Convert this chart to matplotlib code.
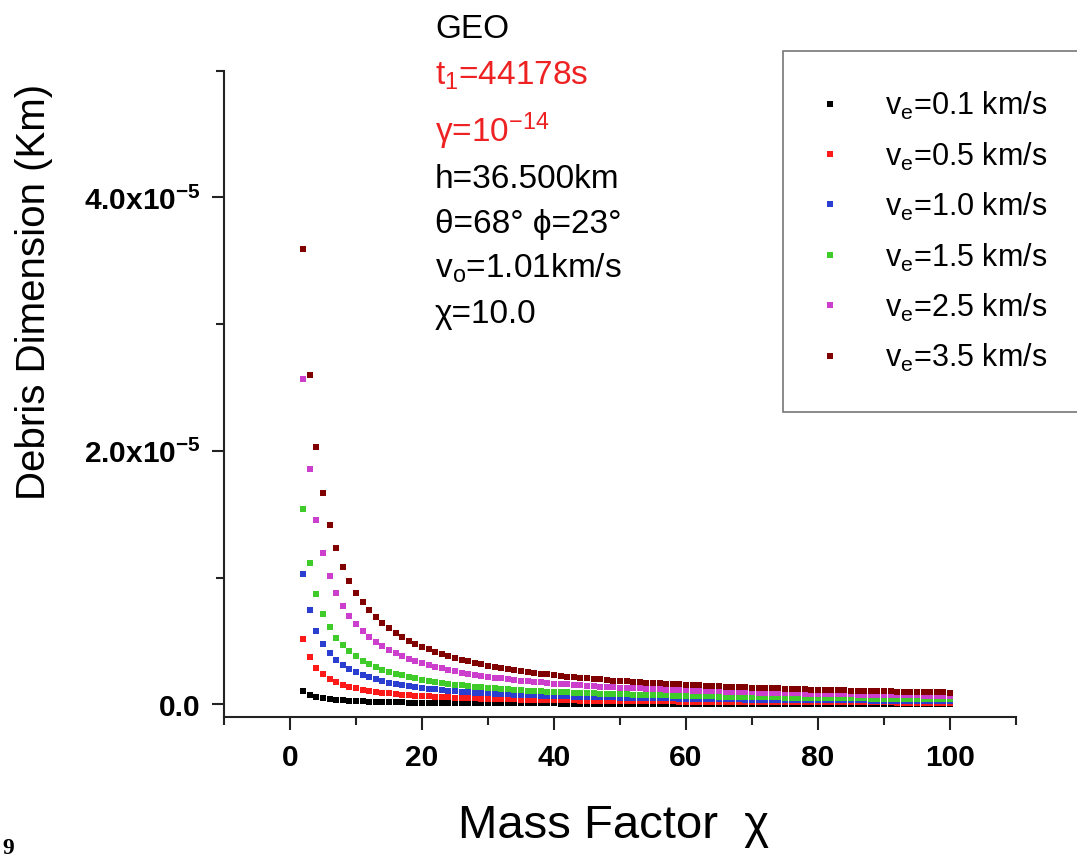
import matplotlib
matplotlib.use('Agg')
import matplotlib.pyplot as plt
from matplotlib.ticker import MultipleLocator, FixedLocator, FixedFormatter

plt.rcParams.update({
    'font.family': ['Liberation Sans', 'DejaVu Sans'],
    'mathtext.fontset': 'custom',
    'mathtext.rm': 'Liberation Sans',
    'mathtext.it': 'Liberation Sans',
    'mathtext.bf': 'Liberation Sans:bold',
    'mathtext.default': 'regular',
})

# mass factor chi = 2 .. 100
chi = list(range(2, 101))

# debris dimension, units of 1e-5 km
d_01 = [0.103, 0.074, 0.058, 0.048, 0.040, 0.035, 0.031, 0.028, 0.025,
        0.023, 0.021, 0.020, 0.018, 0.017, 0.016, 0.015, 0.014, 0.014, 0.013,
        0.012, 0.012, 0.011, 0.011, 0.010, 0.010, 0.010, 0.009, 0.009, 0.009,
        0.008, 0.008, 0.008, 0.008, 0.008, 0.007, 0.007, 0.007, 0.007, 0.007,
        0.006, 0.006, 0.006, 0.006, 0.006, 0.006, 0.006, 0.006, 0.006, 0.006,
        0.005, 0.005, 0.005, 0.005, 0.005, 0.005, 0.005, 0.005, 0.005, 0.005,
        0.004, 0.004, 0.004, 0.004, 0.004, 0.004, 0.004, 0.004, 0.004, 0.004,
        0.004, 0.004, 0.004, 0.004, 0.004, 0.003, 0.003, 0.003, 0.003, 0.003,
        0.003, 0.003, 0.003, 0.003, 0.003, 0.003, 0.003, 0.003, 0.003, 0.003,
        0.003, 0.003, 0.003, 0.003, 0.003, 0.003, 0.003, 0.003, 0.003, 0.003]
d_05 = [0.513, 0.371, 0.290, 0.238, 0.202, 0.176, 0.155, 0.139, 0.126,
        0.115, 0.106, 0.098, 0.091, 0.086, 0.080, 0.076, 0.072, 0.068, 0.065,
        0.062, 0.059, 0.057, 0.054, 0.052, 0.050, 0.048, 0.047, 0.045, 0.044,
        0.042, 0.041, 0.040, 0.039, 0.038, 0.037, 0.036, 0.035, 0.034, 0.033,
        0.032, 0.031, 0.031, 0.030, 0.029, 0.029, 0.028, 0.027, 0.027, 0.026,
        0.026, 0.025, 0.025, 0.024, 0.024, 0.024, 0.023, 0.023, 0.022, 0.022,
        0.022, 0.021, 0.021, 0.021, 0.020, 0.020, 0.020, 0.019, 0.019, 0.019,
        0.019, 0.018, 0.018, 0.018, 0.018, 0.017, 0.017, 0.017, 0.017, 0.017,
        0.016, 0.016, 0.016, 0.016, 0.016, 0.015, 0.015, 0.015, 0.015, 0.015,
        0.015, 0.014, 0.014, 0.014, 0.014, 0.014, 0.014, 0.014, 0.013, 0.013]
d_10 = [1.027, 0.742, 0.580, 0.477, 0.405, 0.351, 0.311, 0.278, 0.252,
        0.230, 0.212, 0.196, 0.183, 0.171, 0.161, 0.152, 0.144, 0.136, 0.130,
        0.124, 0.118, 0.113, 0.109, 0.104, 0.100, 0.097, 0.093, 0.090, 0.087,
        0.085, 0.082, 0.080, 0.077, 0.075, 0.073, 0.071, 0.069, 0.067, 0.066,
        0.064, 0.063, 0.061, 0.060, 0.059, 0.057, 0.056, 0.055, 0.054, 0.053,
        0.052, 0.051, 0.050, 0.049, 0.048, 0.047, 0.046, 0.046, 0.045, 0.044,
        0.043, 0.043, 0.042, 0.041, 0.041, 0.040, 0.040, 0.039, 0.038, 0.038,
        0.037, 0.037, 0.036, 0.036, 0.035, 0.035, 0.034, 0.034, 0.034, 0.033,
        0.033, 0.032, 0.032, 0.032, 0.031, 0.031, 0.031, 0.030, 0.030, 0.030,
        0.029, 0.029, 0.029, 0.028, 0.028, 0.028, 0.027, 0.027, 0.027, 0.027]
d_15 = [1.540, 1.113, 0.871, 0.715, 0.607, 0.527, 0.466, 0.417, 0.378,
        0.345, 0.318, 0.294, 0.274, 0.257, 0.241, 0.228, 0.215, 0.204, 0.194,
        0.185, 0.177, 0.170, 0.163, 0.156, 0.151, 0.145, 0.140, 0.135, 0.131,
        0.127, 0.123, 0.119, 0.116, 0.113, 0.109, 0.107, 0.104, 0.101, 0.099,
        0.096, 0.094, 0.092, 0.090, 0.088, 0.086, 0.084, 0.082, 0.081, 0.079,
        0.078, 0.076, 0.075, 0.073, 0.072, 0.071, 0.070, 0.068, 0.067, 0.066,
        0.065, 0.064, 0.063, 0.062, 0.061, 0.060, 0.059, 0.058, 0.058, 0.057,
        0.056, 0.055, 0.054, 0.054, 0.053, 0.052, 0.052, 0.051, 0.050, 0.050,
        0.049, 0.048, 0.048, 0.047, 0.047, 0.046, 0.046, 0.045, 0.045, 0.044,
        0.044, 0.043, 0.043, 0.042, 0.042, 0.041, 0.041, 0.041, 0.040, 0.040]
d_25 = [2.567, 1.854, 1.451, 1.192, 1.011, 0.878, 0.776, 0.695, 0.630,
        0.575, 0.530, 0.491, 0.457, 0.428, 0.402, 0.379, 0.359, 0.341, 0.324,
        0.309, 0.295, 0.283, 0.271, 0.261, 0.251, 0.242, 0.233, 0.226, 0.218,
        0.211, 0.205, 0.199, 0.193, 0.188, 0.182, 0.178, 0.173, 0.169, 0.164,
        0.160, 0.157, 0.153, 0.150, 0.146, 0.143, 0.140, 0.137, 0.135, 0.132,
        0.129, 0.127, 0.125, 0.122, 0.120, 0.118, 0.116, 0.114, 0.112, 0.110,
        0.108, 0.107, 0.105, 0.103, 0.102, 0.100, 0.099, 0.097, 0.096, 0.095,
        0.093, 0.092, 0.091, 0.089, 0.088, 0.087, 0.086, 0.085, 0.084, 0.083,
        0.082, 0.081, 0.080, 0.079, 0.078, 0.077, 0.076, 0.075, 0.075, 0.074,
        0.073, 0.072, 0.071, 0.071, 0.070, 0.069, 0.068, 0.068, 0.067, 0.066]
d_35 = [3.594, 2.596, 2.031, 1.669, 1.416, 1.230, 1.087, 0.973, 0.882,
        0.806, 0.742, 0.687, 0.640, 0.599, 0.563, 0.531, 0.502, 0.477, 0.454,
        0.433, 0.413, 0.396, 0.380, 0.365, 0.351, 0.338, 0.327, 0.316, 0.306,
        0.296, 0.287, 0.278, 0.270, 0.263, 0.255, 0.249, 0.242, 0.236, 0.230,
        0.225, 0.219, 0.214, 0.210, 0.205, 0.201, 0.196, 0.192, 0.188, 0.185,
        0.181, 0.178, 0.174, 0.171, 0.168, 0.165, 0.162, 0.160, 0.157, 0.154,
        0.152, 0.149, 0.147, 0.145, 0.142, 0.140, 0.138, 0.136, 0.134, 0.132,
        0.131, 0.129, 0.127, 0.125, 0.124, 0.122, 0.120, 0.119, 0.117, 0.116,
        0.114, 0.113, 0.112, 0.111, 0.109, 0.108, 0.107, 0.105, 0.104, 0.103,
        0.102, 0.101, 0.100, 0.099, 0.098, 0.097, 0.096, 0.095, 0.094, 0.093]

SCALE = 1e-5
series = [d_01, d_05, d_10, d_15, d_25, d_35]
series_labels = ['0.1', '0.5', '1.0', '1.5', '2.5', '3.5']
colors = ['#000000', '#ff1a1a', '#2a3fd0', '#3fcc2a', '#cc3fcc', '#800000']

y_ticks = [0, 2e-5, 4e-5]
y_ticklabels = ['0.0', '2.0x10$^{-5}$', '4.0x10$^{-5}$']

W, H = 1077, 862
fig = plt.figure(figsize=(W / 100, H / 100), dpi=100)
ax = fig.add_axes([224 / W, 1 - 718 / H, (1016 - 224) / W, (718 - 71.7) / H])

for vals, lab, c in zip(series, series_labels, colors):
    ax.plot(chi, [v * SCALE for v in vals], linestyle='none', marker='s',
            markersize=3.7, markeredgewidth=0, color=c,
            label='v$_e$=' + lab + ' km/s')

ax.set_xlim(-10, 110)
ax.set_ylim(-1e-6, 5e-5)
ax.xaxis.set_major_locator(MultipleLocator(20))
ax.xaxis.set_minor_locator(MultipleLocator(10))
ax.yaxis.set_major_locator(FixedLocator(y_ticks))
ax.yaxis.set_major_formatter(FixedFormatter(y_ticklabels))
ax.yaxis.set_minor_locator(FixedLocator([1e-5, 3e-5, 5e-5]))

for s in ['top', 'right']:
    ax.spines[s].set_visible(False)
for s in ['left', 'bottom']:
    ax.spines[s].set_linewidth(1.5)
    ax.spines[s].set_color('#222222')
ax.tick_params(which='major', direction='out', length=9, width=1.5,
               color='#222222', labelsize=21.5, pad=8)
ax.tick_params(which='minor', direction='out', length=5.5, width=1.5,
               color='#222222')
ax.tick_params(axis='x', which='major', pad=10)
for t in ax.get_xticklabels() + ax.get_yticklabels():
    t.set_fontweight('bold')

fig.text(614 / W, 1 - 826 / H, 'Mass Factor  \u03c7', fontsize=34,
         ha='center', va='center')
fig.text(34 / W, 1 - 292 / H, 'Debris Dimension (Km)', fontsize=29,
         rotation=90, ha='center', va='center')

# parameter block
info = [
    ('GEO', 'black', 38),
    ('t$_1$=44178s', '#ee2222', 85),
    ('\u03b3=10$^{-14}$', '#ee2222', 142),
    ('h=36.500km', 'black', 188),
    ('\u03b8=68\u00b0 \u03d5=23\u00b0', 'black', 233),
    ('v$_o$=1.01km/s', 'black', 278),
    ('\u03c7=10.0', 'black', 323),
]
for txt, c, yb in info:
    fig.text(435 / W, 1 - yb / H, txt, fontsize=24, color=c,
             ha='left', va='baseline')

leg = ax.legend(loc='upper left', bbox_to_anchor=(783 / W, 1 - 52 / H),
                bbox_transform=fig.transFigure, fontsize=22, frameon=True,
                fancybox=False, edgecolor='#555555', borderpad=1.25,
                labelspacing=0.6, handlelength=0.6, handletextpad=1.5,
                markerscale=1.0, borderaxespad=0)
leg.get_frame().set_linewidth(1.2)

fig.text(2 / W, 1 - 838 / H, '9', fontsize=17, fontweight='bold',
         family='Liberation Serif', ha='left', va='top')

fig.savefig('out.png', dpi=100, facecolor='white')
